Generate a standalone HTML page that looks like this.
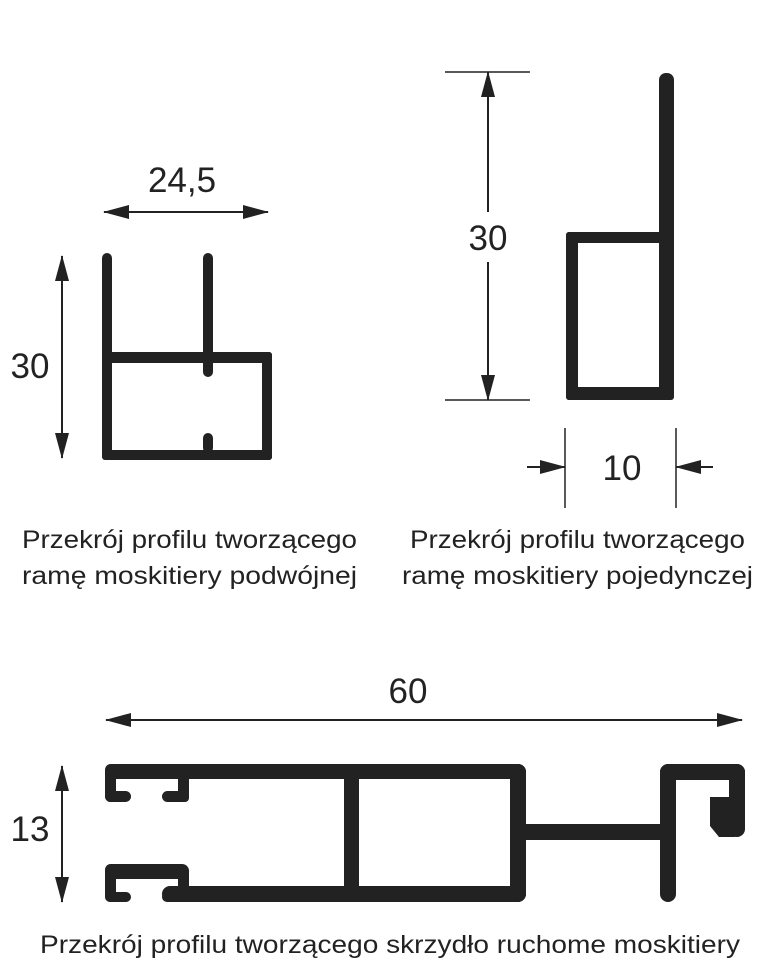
<!DOCTYPE html>
<html><head><meta charset="utf-8"><style>
html,body{margin:0;padding:0;background:#fff;}
svg{display:block}
text{font-family:"Liberation Sans",sans-serif;fill:#222;}
</style></head><body>
<svg width="780" height="980" viewBox="0 0 780 980" xmlns="http://www.w3.org/2000/svg">
<defs>
<marker id="a" markerWidth="26" markerHeight="14" refX="25" refY="7" orient="auto-start-reverse" markerUnits="userSpaceOnUse">
<path d="M0,0 L26,7 L0,14 Z" fill="#222"/>
</marker>
</defs>
<g stroke="#222" stroke-width="2" fill="none">
<line x1="104" y1="212" x2="268" y2="212" marker-start="url(#a)" marker-end="url(#a)"/>
<line x1="62" y1="256" x2="62" y2="458" marker-start="url(#a)" marker-end="url(#a)"/>
<line x1="445" y1="72" x2="530" y2="72" stroke-width="1.5"/>
<line x1="445" y1="400" x2="530" y2="400" stroke-width="1.5"/>
<line x1="488" y1="72" x2="488" y2="212" marker-start="url(#a)"/>
<line x1="488" y1="262" x2="488" y2="400" marker-end="url(#a)"/>
<line x1="565" y1="428" x2="565" y2="508" stroke-width="1.5"/>
<line x1="676" y1="428" x2="676" y2="508" stroke-width="1.5"/>
<line x1="527" y1="467" x2="565" y2="467" marker-end="url(#a)"/>
<line x1="713" y1="467" x2="676" y2="467" marker-end="url(#a)"/>
<line x1="106" y1="720" x2="742" y2="720" marker-start="url(#a)" marker-end="url(#a)"/>
<line x1="62" y1="766" x2="62" y2="902" marker-start="url(#a)" marker-end="url(#a)"/>
</g>
<text x="182" y="192" font-size="35" text-anchor="middle">24,5</text>
<text x="30" y="378" font-size="35" text-anchor="middle">30</text>
<text x="488" y="250" font-size="35" text-anchor="middle">30</text>
<text x="622" y="480" font-size="35" text-anchor="middle">10</text>
<text x="408" y="703" font-size="35" text-anchor="middle">60</text>
<text x="30" y="841" font-size="35" text-anchor="middle">13</text>
<text x="22" y="548" font-size="25" textLength="335" lengthAdjust="spacingAndGlyphs">Przekrój profilu tworzącego</text>
<text x="22" y="584" font-size="25" textLength="335" lengthAdjust="spacingAndGlyphs">ramę moskitiery podwójnej</text>
<text x="410" y="548" font-size="25" textLength="335" lengthAdjust="spacingAndGlyphs">Przekrój profilu tworzącego</text>
<text x="402" y="584" font-size="25" textLength="351" lengthAdjust="spacingAndGlyphs">ramę moskitiery pojedynczej</text>
<text x="40" y="953" font-size="25" textLength="700" lengthAdjust="spacingAndGlyphs">Przekrój profilu tworzącego skrzydło ruchome moskitiery</text>

<g fill="#222">
<!-- top-left profile -->
<rect x="102" y="253" width="10" height="207" rx="5"/>
<rect x="203" y="253" width="10" height="124" rx="5"/>
<rect x="203" y="433" width="10" height="20" rx="5"/>
<rect x="102" y="352" width="170" height="11" rx="3"/>
<rect x="262" y="352" width="10" height="108" rx="3"/>
<rect x="102" y="450" width="170" height="10" rx="3"/>
<!-- top-right profile -->
<rect x="659" y="73" width="15" height="327" rx="7"/>
<rect x="566" y="232" width="108" height="11" rx="3"/>
<rect x="566" y="232" width="12" height="168" rx="3"/>
<rect x="566" y="387" width="108" height="13" rx="3"/>
<!-- bottom profile -->
<rect x="105" y="764" width="421" height="15" rx="8"/>
<rect x="162" y="886" width="364" height="16" rx="8"/>
<rect x="178" y="886" width="30" height="16"/>
<rect x="105" y="764" width="11" height="38" rx="6"/>
<rect x="105" y="791" width="26" height="11" rx="5.5"/>
<rect x="162" y="791" width="27" height="11" rx="5.5"/>
<rect x="178" y="770" width="11" height="32" rx="4"/>
<rect x="105" y="864" width="84" height="15" rx="7"/>
<rect x="105" y="864" width="11" height="38" rx="6"/>
<rect x="105" y="892" width="26" height="10" rx="5"/>
<rect x="162" y="892" width="30" height="10" rx="5"/>
<rect x="178" y="870" width="11" height="24"/>
<rect x="344" y="770" width="15" height="125"/>
<rect x="510" y="764" width="16" height="138" rx="8"/>
<rect x="518" y="824" width="150" height="16"/>
<rect x="660" y="764" width="16" height="138" rx="8"/>
<rect x="660" y="764" width="85" height="16" rx="8"/>
<rect x="729" y="764" width="16" height="73" rx="8"/>
<path d="M710,797 L735,797 L735,837 L719,837 L710,826 Z"/>
</g>
</svg>
</body></html>
